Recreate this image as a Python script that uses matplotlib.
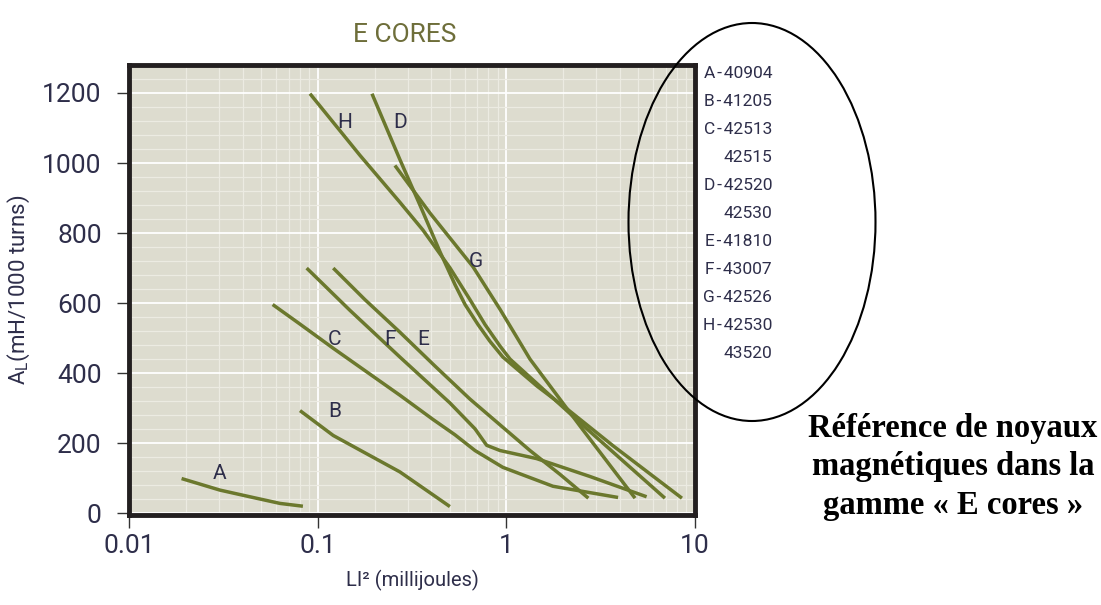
import matplotlib
matplotlib.use('Agg')
import matplotlib.pyplot as plt
from matplotlib.patches import Ellipse
from matplotlib.ticker import MultipleLocator, LogLocator, NullFormatter, FixedLocator, FixedFormatter

plt.rcParams['font.family'] = ['Roboto', 'DejaVu Sans']
plt.rcParams['mathtext.default'] = 'regular'

# curves: LI^2 (mJ) vs AL (mH/1000 turns)
a_x = [0.0189, 0.0302, 0.0452, 0.0629, 0.0832]
a_y = [99, 66, 45, 28, 20]
b_x = [0.0803, 0.1205, 0.181, 0.272, 0.409, 0.501]
b_y = [293, 222, 170, 118, 52, 19]
c_x = [0.0575, 0.0803, 0.1205, 0.181, 0.272, 0.407, 0.533, 0.681, 0.957, 1.765, 3.91]
c_y = [596, 540, 471, 404, 337, 268, 224, 179, 131, 77, 45]
d_x = [0.1934, 0.272, 0.3475, 0.4436, 0.533, 0.603, 0.706, 0.817, 0.957, 1.452, 2.094, 3.67, 8.53]
d_y = [1198, 1010, 880, 747, 653, 596, 539, 491, 446, 363, 298, 193, 43]
e_x = [0.1205, 0.1774, 0.272, 0.418, 0.640, 1.333, 1.923, 2.72]
e_y = [700, 610, 517, 420, 326, 179, 111, 43]
f_x = [0.0871, 0.148, 0.272, 0.501, 0.681, 0.785, 0.925, 1.445, 2.77, 5.54]
f_y = [700, 579, 446, 315, 241, 194, 179, 156, 105, 47]
g_x = [0.256, 0.393, 0.664, 0.925, 1.333, 2.52, 4.81]
g_y = [993, 857, 704, 582, 440, 241, 43]
h_x = [0.0907, 0.167, 0.272, 0.360, 0.501, 0.640, 0.769, 0.925, 1.045, 2.67, 6.93]
h_y = [1198, 1022, 888, 809, 701, 610, 539, 477, 440, 241, 43]

curve_labels = ['A', 'B', 'C', 'D', 'E', 'F', 'G', 'H']
label_x = [0.0302, 0.123, 0.123, 0.272, 0.360, 0.241, 0.688, 0.139]
label_y = [114, 290, 497, 1115, 497, 497, 718, 1115]

legend_lines = ['A\u200a-\u200a40904', 'B\u200a-\u200a41205', 'C\u200a-\u200a42513', '42515',
                'D\u200a-\u200a42520', '42530', 'E\u200a-\u200a41810', 'F\u200a-\u200a43007',
                'G\u200a-\u200a42526', 'H\u200a-\u200a42530', '43520']

xticks = [0.01, 0.1, 1, 10]
xticklabels = ['0.01', '0.1', '1', '10']
yticks = [0, 200, 400, 600, 800, 1000, 1200]

line_col = '#6b782d'
text_col = '#2e2e4a'

fig = plt.figure(figsize=(11.01, 6.05), dpi=100)
ax = fig.add_axes([0.1176, 0.1488, 0.5136, 0.7438])
ax.set_facecolor('#dddccf')

for xs, ys in [(a_x, a_y), (b_x, b_y), (c_x, c_y), (d_x, d_y),
               (e_x, e_y), (f_x, f_y), (g_x, g_y), (h_x, h_y)]:
    ax.plot(xs, ys, color=line_col, lw=2.5, solid_capstyle='butt',
            solid_joinstyle='round', zorder=3)

for lab, lx, ly in zip(curve_labels, label_x, label_y):
    ax.text(lx, ly, lab, fontsize=15, color=text_col, ha='center', va='center', zorder=4)

ax.set_xscale('log')
ax.set_xlim(0.01, 10)
ax.set_ylim(-5, 1280)
ax.xaxis.set_major_locator(FixedLocator(xticks))
ax.xaxis.set_major_formatter(FixedFormatter(xticklabels))
ax.xaxis.set_minor_locator(LogLocator(base=10, subs=range(2, 10)))
ax.xaxis.set_minor_formatter(NullFormatter())
ax.set_yticks(yticks)
ax.yaxis.set_minor_locator(MultipleLocator(40))

ax.set_axisbelow(True)
ax.grid(which='major', color='white', lw=1.3)
ax.grid(which='minor', color='#ecebe2', lw=0.9)
ax.tick_params(which='minor', length=0)
ax.tick_params(which='major', length=9, width=1, color='#333333',
               labelsize=19, labelcolor=text_col)
ax.tick_params(axis='y', pad=11)
ax.tick_params(axis='x', pad=5)

for s in ax.spines.values():
    s.set_linewidth(3.5)
    s.set_color('#231f20')

ax.set_xlabel('LI² (millijoules)', fontsize=14.5, color=text_col, labelpad=8)
ax.set_ylabel('A$_{L}$(mH/1000 turns)', fontsize=16, color=text_col, labelpad=7)

fig.text(405 / 1101, 1 - 35 / 605, 'E CORES', fontsize=19, color='#6e6e3a',
         ha='center', va='center')

for i, t in enumerate(legend_lines):
    fig.text(772 / 1101, 1 - (73 + 28.1 * i) / 605, t, fontsize=12.5, color=text_col,
             ha='right', va='center')

fig.patches.append(Ellipse((752 / 1101, 1 - 222 / 605), 247 / 1101, 398 / 605,
                           transform=fig.transFigure, fill=False, ec='black', lw=1.5))

fig.text(953 / 1101, 1 - 467 / 605,
         'Référence de noyaux\nmagnétiques dans la\ngamme « E cores »',
         fontsize=23.5, fontweight='bold', family='Liberation Serif',
         ha='center', va='center', linespacing=1.33, color='black')

fig.savefig('out.png', dpi=100)
